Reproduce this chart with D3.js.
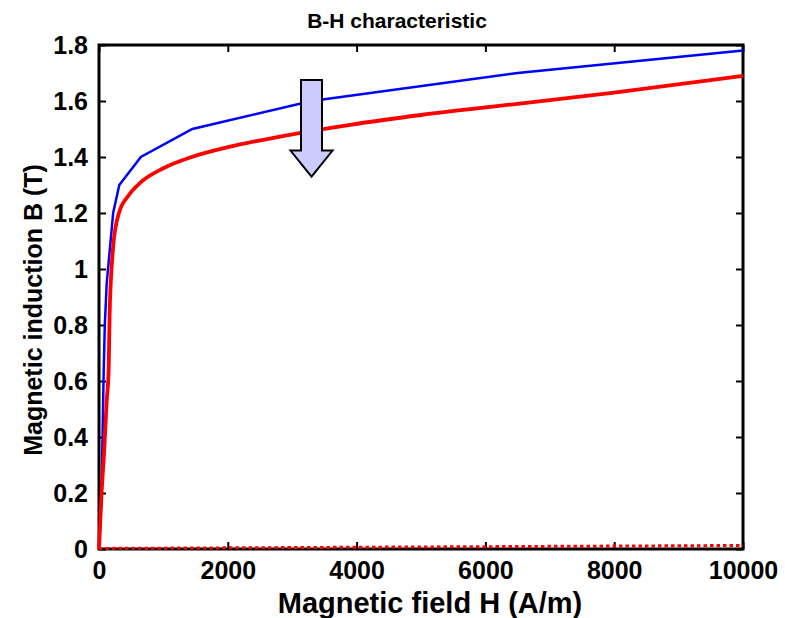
<!DOCTYPE html>
<html>
<head>
<meta charset="utf-8">
<script src="https://cdn.jsdelivr.net/npm/d3@7"></script>
<style>
  html, body { margin: 0; padding: 0; background: #fff; }
  svg text { font-family: "Liberation Sans", Arial, sans-serif; font-weight: bold; fill: #000; }
</style>
</head>
<body>
<svg id="chart" width="785" height="618"></svg>
<script>
// ---- data ----
const title = "B-H characteristic";
const xLabel = "Magnetic field H (A/m)";
const yLabel = "Magnetic induction B (T)";
const xTicks = [0, 2000, 4000, 6000, 8000, 10000];
const yTicks = [0, 0.2, 0.4, 0.6, 0.8, 1, 1.2, 1.4, 1.6, 1.8];

// blue curve (piecewise linear data)
const blueH = [0, 40, 55, 70, 90, 120, 160, 220, 315, 650, 1450, 3300, 6500, 10000];
const blueB = [0, 0.2, 0.4, 0.6, 0.8, 0.95, 1.05, 1.2, 1.3, 1.4, 1.5, 1.6, 1.7, 1.78];

// red curve (smooth)
const redH = [0, 40, 80, 120, 150, 165, 185, 220, 310, 450, 650, 1000, 1440, 2000, 2810, 3900, 5000, 6500, 8000, 10000];
const redB = [0, 0.2, 0.35, 0.53, 0.64, 0.84, 0.96, 1.08, 1.2, 1.26, 1.31, 1.36, 1.40, 1.435, 1.473, 1.515, 1.55, 1.59, 1.63, 1.69];

// red dotted (vacuum line)
const vacH = [0, 10000];
const vacB = [0.002, 0.0126];

// arrow annotation (data coords)
const arrowH = 3300;
const arrowFromB = 1.675;
const arrowToB = 1.33;

// ---- layout ----
const svg = d3.select("#chart");
const L = 99, R = 743, T = 45, Bm = 549;
const x = d3.scaleLinear().domain([0, 10000]).range([L, R]);
const y = d3.scaleLinear().domain([0, 1.8]).range([Bm, T]);

// ticks
const tickLen = 7;
const gx = svg.append("g").attr("transform", `translate(0,${Bm})`)
  .call(d3.axisBottom(x).tickValues(xTicks).tickFormat(d3.format("d")).tickSizeInner(-tickLen).tickSizeOuter(0).tickPadding(12));
const gxt = svg.append("g").attr("transform", `translate(0,${T})`)
  .call(d3.axisTop(x).tickValues(xTicks).tickFormat("").tickSizeInner(-tickLen).tickSizeOuter(0));
const gy = svg.append("g").attr("transform", `translate(${L},0)`)
  .call(d3.axisLeft(y).tickValues(yTicks).tickFormat(d => d3.format("")(+d.toFixed(1))).tickSizeInner(-tickLen).tickSizeOuter(0).tickPadding(11));
const gyr = svg.append("g").attr("transform", `translate(${R},0)`)
  .call(d3.axisRight(y).tickValues(yTicks).tickFormat("").tickSizeInner(-tickLen).tickSizeOuter(0));
[gx, gxt, gy, gyr].forEach(g => {
  g.select(".domain").remove();
  g.selectAll(".tick line").attr("stroke", "#000").attr("stroke-width", 2);
  g.selectAll(".tick text").style("font-size", "25px").attr("fill", "#000");
});

// box
svg.append("rect").attr("x", L).attr("y", T).attr("width", R - L).attr("height", Bm - T)
  .attr("fill", "none").attr("stroke", "#000").attr("stroke-width", 3);

// lines
const blueData = blueH.map((h, i) => [h, blueB[i]]);
const redData = redH.map((h, i) => [h, redB[i]]);
const vacData = vacH.map((h, i) => [h, vacB[i]]);

const lineLin = d3.line().x(d => x(d[0])).y(d => y(d[1]));
const lineSmooth = d3.line().x(d => x(d[0])).y(d => y(d[1])).curve(d3.curveMonotoneX);

svg.append("path").datum(blueData).attr("d", lineLin)
  .attr("fill", "none").attr("stroke", "#0000ff").attr("stroke-width", 2.5).attr("stroke-linejoin", "miter");
svg.append("path").datum(redData).attr("d", lineSmooth)
  .attr("fill", "none").attr("stroke", "#ff0000").attr("stroke-width", 3.8);
svg.append("path").datum(vacData).attr("d", lineLin)
  .attr("fill", "none").attr("stroke", "#ff0000").attr("stroke-width", 3).attr("stroke-dasharray", "3.5,3");

// arrow
const ax = x(arrowH), ay0 = y(arrowFromB), ay1 = y(arrowToB);
const shaftW = 21, headW = 42, headL = 26;
const pts = [
  [ax - shaftW/2, ay0], [ax + shaftW/2, ay0], [ax + shaftW/2, ay1 - headL],
  [ax + headW/2, ay1 - headL], [ax, ay1], [ax - headW/2, ay1 - headL],
  [ax - shaftW/2, ay1 - headL]
];
svg.append("polygon").attr("points", pts.map(p => p.join(",")).join(" "))
  .attr("fill", "#ccccff").attr("stroke", "#000").attr("stroke-width", 2);

// labels
svg.append("text").attr("x", 397).attr("y", 20).attr("text-anchor", "middle")
  .attr("dominant-baseline", "central").style("font-size", "21px").text(title);
svg.append("text").attr("x", 430).attr("y", 603).attr("text-anchor", "middle")
  .attr("dominant-baseline", "central").style("font-size", "29px").text(xLabel);
svg.append("text").attr("transform", `translate(33,310) rotate(-90)`).attr("text-anchor", "middle")
  .attr("dominant-baseline", "central").style("font-size", "25px").text(yLabel);
</script>
</body>
</html>
